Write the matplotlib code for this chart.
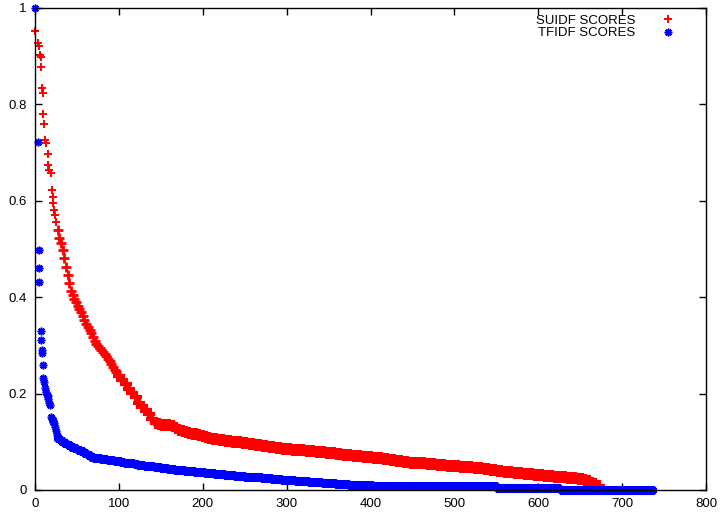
import numpy as np
import matplotlib
matplotlib.use('Agg')
import matplotlib.pyplot as plt
from matplotlib.lines import Line2D

plt.rcParams['font.family'] = ['Liberation Sans', 'DejaVu Sans']

# SUIDF scores, sorted. head: single points read one by one
suidf_head_rank = [0, 4, 5, 6, 7, 7, 8, 9, 10, 11, 12, 13, 15, 16, 17, 19, 20, 21, 22, 23,
                   24, 25, 27, 29, 31, 33, 35, 37, 39, 41, 43, 45, 47, 49, 51, 53, 55, 57, 59, 61,
                   63, 65, 67, 69, 71, 73, 75, 77, 79, 81, 83, 85, 87, 89, 91, 93, 95, 97]
suidf_head = [0.952, 0.927, 0.922, 0.902, 0.899, 0.878, 0.835, 0.823, 0.780, 0.759,
              0.726, 0.719, 0.698, 0.674, 0.664, 0.657, 0.622, 0.608, 0.595, 0.581,
              0.571, 0.557, 0.539, 0.522, 0.512, 0.498, 0.482, 0.463, 0.446, 0.429,
              0.413, 0.405, 0.397, 0.390, 0.382, 0.376, 0.369, 0.361, 0.353, 0.345,
              0.338, 0.331, 0.325, 0.317, 0.310, 0.303, 0.298, 0.294, 0.291, 0.287,
              0.282, 0.277, 0.272, 0.268, 0.262, 0.256, 0.250, 0.245]
# tail: read every 4th rank starting at 100
suidf_tail_start = 100
suidf_tail = [0.237, 0.229, 0.220, 0.209, 0.201, 0.192, 0.181, 0.173, 0.165, 0.157,
              0.148, 0.140, 0.136, 0.135, 0.135, 0.134, 0.132, 0.128, 0.125, 0.122,
              0.120, 0.118, 0.117, 0.116, 0.114, 0.112, 0.110, 0.108, 0.106, 0.105,
              0.104, 0.103, 0.102, 0.101, 0.100, 0.100, 0.099, 0.098, 0.097, 0.096,
              0.095, 0.094, 0.093, 0.092, 0.091, 0.090, 0.089, 0.088, 0.087, 0.086,
              0.086, 0.085, 0.084, 0.083, 0.083, 0.082, 0.081, 0.080, 0.080, 0.079,
              0.078, 0.078, 0.077, 0.076, 0.076, 0.075, 0.074, 0.073, 0.073, 0.072,
              0.071, 0.071, 0.070, 0.069, 0.069, 0.068, 0.067, 0.066, 0.066, 0.065,
              0.064, 0.063, 0.062, 0.061, 0.060, 0.059, 0.058, 0.057, 0.057, 0.056,
              0.055, 0.055, 0.054, 0.053, 0.053, 0.052, 0.052, 0.051, 0.050, 0.050,
              0.049, 0.049, 0.048, 0.048, 0.047, 0.047, 0.046, 0.045, 0.045, 0.044,
              0.043, 0.042, 0.041, 0.040, 0.039, 0.038, 0.038, 0.037, 0.036, 0.035,
              0.035, 0.034, 0.033, 0.033, 0.032, 0.031, 0.031, 0.030, 0.029, 0.029,
              0.028, 0.027, 0.027, 0.026, 0.025, 0.025, 0.024, 0.023, 0.022, 0.020,
              0.018, 0.015, 0.012, 0.008]

# TFIDF scores, sorted
tfidf_head_rank = [0, 3, 5, 5, 5, 7, 7, 8, 8, 9, 10, 11, 12, 13, 14, 15, 16, 17, 18, 19,
                   20, 21, 22, 23, 24, 25, 26]
tfidf_head = [1.0, 0.722, 0.497, 0.460, 0.432, 0.330, 0.311, 0.290, 0.284, 0.260,
              0.232, 0.225, 0.212, 0.204, 0.198, 0.194, 0.188, 0.180, 0.176, 0.152,
              0.148, 0.145, 0.142, 0.138, 0.130, 0.122, 0.114]
tfidf_tail_start = 28
tfidf_tail = [0.108, 0.101, 0.097, 0.093, 0.090, 0.087, 0.083, 0.080, 0.076, 0.072,
              0.069, 0.067, 0.066, 0.065, 0.064, 0.063, 0.062, 0.061, 0.060,
              0.058, 0.057, 0.056, 0.055, 0.054, 0.052, 0.051, 0.050, 0.050,
              0.049, 0.048, 0.047, 0.046, 0.045, 0.044, 0.043, 0.042, 0.042,
              0.041, 0.040, 0.040, 0.039, 0.038, 0.038, 0.037, 0.036, 0.036,
              0.035, 0.034, 0.034, 0.033, 0.032, 0.032, 0.031, 0.030, 0.030,
              0.029, 0.028, 0.028, 0.027, 0.026, 0.026, 0.025, 0.024, 0.024,
              0.023, 0.023, 0.022, 0.021, 0.021, 0.020, 0.020, 0.019, 0.019,
              0.018, 0.018, 0.017, 0.017, 0.016, 0.016, 0.015, 0.015, 0.014,
              0.014, 0.013, 0.013, 0.012, 0.012, 0.011, 0.011, 0.011, 0.010,
              0.010, 0.010, 0.010, 0.009, 0.009, 0.009, 0.009, 0.009, 0.009,
              0.009, 0.009, 0.009, 0.009, 0.009, 0.009, 0.009, 0.009, 0.009,
              0.009, 0.009, 0.009, 0.009, 0.009, 0.009, 0.009, 0.009, 0.009,
              0.009, 0.009, 0.009, 0.009, 0.009, 0.009, 0.009, 0.009, 0.009,
              0.009, 0.009, 0.008, 0.008,
              0.005, 0.005, 0.005, 0.005, 0.005, 0.005, 0.005, 0.005, 0.005, 0.005,
              0.005, 0.005, 0.005, 0.005, 0.005, 0.005, 0.005, 0.005, 0.005,
              0.001, 0.001, 0.001, 0.001, 0.001, 0.001, 0.001, 0.001, 0.001, 0.001,
              0.001, 0.001, 0.001, 0.001, 0.001, 0.001, 0.001, 0.001, 0.001, 0.001,
              0.001, 0.001, 0.001, 0.001, 0.001, 0.001, 0.001, 0.001]

xticks = [0, 100, 200, 300, 400, 500, 600, 700, 800]
yticks = [0, 0.2, 0.4, 0.6, 0.8, 1]
ytick_labels = ['0', '0.2', '0.4', '0.6', '0.8', '1']

suidf_tail_rank = suidf_tail_start + 4 * np.arange(len(suidf_tail))
tfidf_tail_rank = tfidf_tail_start + 4 * np.arange(len(tfidf_tail))

fig = plt.figure(figsize=(7.2, 5.17), dpi=100)
ax = fig.add_axes([35 / 720, 27 / 517, 671 / 720, 482 / 517])

red = '#ff0000'
blue = '#0000ff'
star = (8, 2, 0)  # gnuplot style asterisk
n_sparse = 22  # first points stand apart, the rest pile up

ax.plot(suidf_head_rank[:n_sparse], suidf_head[:n_sparse], ls='none', marker='+',
        ms=5.5, mew=1.4, color=red, clip_on=False)
ax.plot(suidf_head_rank[n_sparse:], suidf_head[n_sparse:], ls='none', marker='+',
        ms=7, mew=2.0, color=red, clip_on=False)
ax.plot(suidf_tail_rank, suidf_tail, ls='none', marker='+', ms=8, mew=3.0, color=red, clip_on=False)
ax.plot(tfidf_head_rank, tfidf_head, ls='none', marker=star, ms=5.5, mew=1.2, color=blue, clip_on=False)
ax.plot(tfidf_tail_rank, tfidf_tail, ls='none', marker=star, ms=6.5, mew=2.6, color=blue, clip_on=False)

ax.set_xlim(0, 800)
ax.set_ylim(0, 1)
ax.set_xticks(xticks)
ax.set_yticks(yticks)
ax.set_yticklabels(ytick_labels)
ax.tick_params(direction='in', top=True, right=True, length=5, width=1, labelsize=9.5, pad=6)
for s in ax.spines.values():
    s.set_linewidth(1)

handles = [Line2D([], [], ls='none', marker='+', ms=5.5, mew=1.4, color=red),
           Line2D([], [], ls='none', marker=star, ms=5.5, mew=1.2, color=blue)]
ax.legend(handles, ['SUIDF SCORES', 'TFIDF SCORES'], loc='upper right',
          bbox_to_anchor=(0.951, 0.986), markerfirst=False, frameon=False,
          fontsize=9.5, handlelength=0.85, handletextpad=2.0, labelspacing=0.0,
          borderpad=0, borderaxespad=0)

fig.savefig('out.png', dpi=100)
